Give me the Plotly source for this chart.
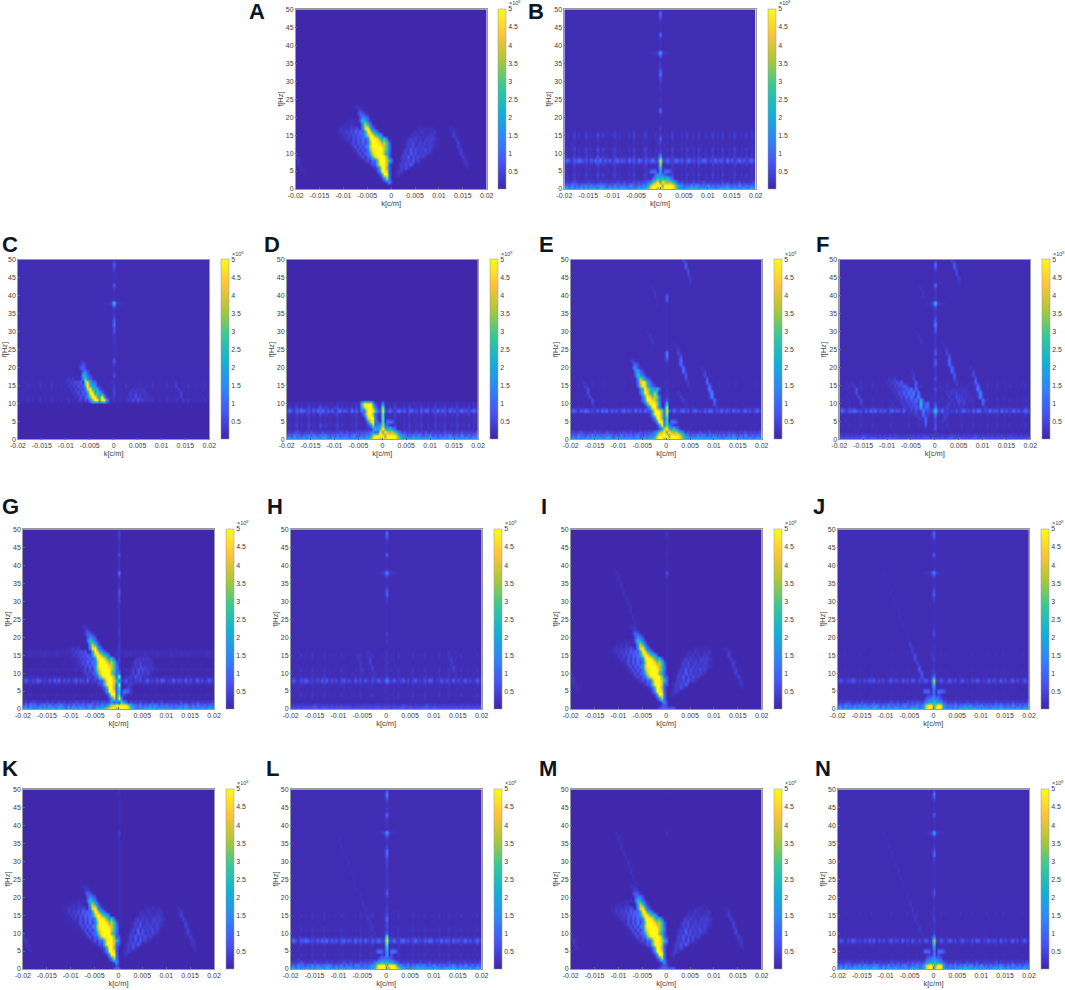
import numpy as np
import plotly.graph_objects as go

W, H = 1065, 990

# one character per cell, amplitude in units of 1e8
LEVELS = dict(zip("0123456789abcde", [0.05, 0.12, 0.2, 0.3, 0.45, 0.65, 0.9, 1.2, 1.6, 2.1, 2.7, 3.3, 3.9, 4.5, 5.0]))
K_VALUES = [-0.02 + 0.0005 * i for i in range(81)]
F_VALUES = list(range(51))
K_TICKS = [-0.02, -0.015, -0.01, -0.005, 0, 0.005, 0.01, 0.015, 0.02]
K_LABELS = ["-0.02", "-0.015", "-0.01", "-0.005", "0", "0.005", "0.01", "0.015", "0.02"]
F_TICKS = list(range(0, 55, 5))
BAR_TICKS = [0.5, 1, 1.5, 2, 2.5, 3, 3.5, 4, 4.5, 5]
BAR_LABELS = ["0.5", "1", "1.5", "2", "2.5", "3", "3.5", "4", "4.5", "5"]

# rows below are (f, first k column, codes); "." keeps what is underneath
FAN_LEFT = [(5, 34, "1356"), (6, 32, "135267"), (7, 30, "13526376"), (8, 28, "1352637487"), (9, 26, "135263748687"),
            (10, 25, "1352637486878"), (11, 24, "13526374868788"), (12, 22, "1135263748687878"),
            (13, 21, "11352637486878"), (14, 19, "113325364758687"), (15, 18, "1132435465768"),
            (16, 17, "113243536475"), (17, 17, "1132324354"), (18, 19, "112132"), (19, 22, "1212")]
FAN_RIGHT = [(4, 42, "13"), (5, 42, "1342"), (6, 43, "24353"), (7, 43, "2435363"), (8, 44, "243526342"),
             (9, 44, "24362535342"), (10, 45, "3426352434321"), (11, 45, "2436253435342"),
             (12, 46, "24352434334321"), (13, 46, "24352342434321"), (14, 47, "2424231343432"),
             (15, 48, "13231322332"), (16, 49, "1213211223"), (17, 51, "1212112")]
FAN_STREAK = [(17, 64, "12"), (16, 65, "131"), (15, 65, "141"), (14, 66, "141"), (13, 67, "141"), (12, 67, "141"),
              (11, 68, "141"), (10, 68, "141"), (9, 69, "141"), (8, 70, "131"), (7, 70, "131"), (6, 71, "12"),
              (10, 0, "2"), (9, 0, "31"), (8, 0, "131"), (7, 1, "21"), (6, 2, "21"), (5, 3, "1")]
FAN_WEAK_LEFT = [(5, 34, "1344"), (6, 32, "134245"), (7, 30, "13425364"), (8, 28, "1342536475"),
                 (9, 26, "134253647576"), (10, 25, "1342536475867"), (11, 24, "13425364758"),
                 (12, 22, "1132536475867"), (13, 21, "113253647586"), (14, 20, "11324354657"),
                 (15, 19, "1132435465"), (16, 18, "113243546"), (17, 18, "112324")]
FAN_WEAK_RIGHT = [(5, 42, "13"), (6, 43, "243"), (7, 43, "2342"), (8, 44, "24243"), (9, 44, "2425342"),
                  (10, 45, "242534242"), (11, 45, "24253534232"), (12, 46, "2425342322"), (13, 46, "242423232"),
                  (14, 47, "23232321"), (15, 48, "12121")]

RIDGE_A = [(2, 38, "483"), (3, 36, "47c7"), (4, 35, "48ee7"), (5, 34, "48eed6"), (6, 34, "5aeeb6"),
           (7, 33, "5aeeec6"), (8, 33, "6aeeeca6"), (9, 31, "6adeeeeb6"), (10, 30, "69ceeeeb96"),
           (11, 30, "7bdeeeeca7"), (12, 30, "8ceeeedca7"), (13, 30, "7beeedbca6"), (14, 30, "8deeda9a6"),
           (15, 29, "8ceeba96"), (16, 29, "9eda86"), (17, 28, "8dea74"), (18, 28, "9ca74"), (19, 27, "6a964"),
           (20, 27, "5875"), (21, 26, "4653"), (22, 26, "342"), (23, 25, "221")]
RIDGE_E = [(3, 37, "48c"), (4, 36, "48e8"), (5, 35, "48ee7"), (6, 34, "48eeb6"), (7, 33, "48eeeb6"),
           (8, 33, "59eeeb7"), (9, 32, "59eeb8"), (10, 31, "69eeec8"), (11, 30, "79eedca7"),
           (12, 30, "7aedbcb7"), (13, 29, "6aeda9c8"), (14, 29, "7aeca98a6"), (15, 28, "6beda864"),
           (16, 28, "7ced974"), (17, 28, "8ca864"), (18, 27, "6a864"), (19, 27, "7964"), (20, 26, "6853"),
           (21, 26, "464"), (22, 25, "342")]
RIDGE_C = [(11, 30, "8beeaee94"), (12, 29, "7beea9e84"), (13, 29, "8ee9a964"), (14, 28, "7cea9953"),
           (15, 28, "9ea984"), (16, 28, "cd976"), (17, 27, "8b864"), (18, 27, "9964"), (19, 27, "675"),
           (20, 26, "564"), (21, 26, "353"), (22, 26, "22")]
RIDGE_D = [(10, 31, "9eeee95"), (9, 31, "8ceeeb7"), (8, 32, "6beeeb6"), (7, 32, "7ceeb6"), (6, 33, "8dee7"),
           (5, 34, "8de7"), (4, 35, "8d6"), (3, 36, "7a8"), (2, 37, "56")]
RIDGE_F = [(19, 30, "3"), (18, 30, "141"), (17, 30, "151"), (16, 31, "161"), (15, 31, "161"), (14, 31, "272"),
           (13, 32, "272"), (12, 32, "383"), (11, 33, "494"), (10, 33, "4a4"), (9, 33, "494"), (8, 34, "383"),
           (7, 34, "272"), (6, 35, "272"), (5, 35, "272"), (4, 36, "6"), (3, 36, "2")]

STREAKS_EF = [(16, 5, "3"), (15, 5, "141"), (14, 6, "151"), (13, 6, "151"), (12, 7, "151"), (11, 8, "151"),
              (10, 8, "141"), (9, 9, "131"), (8, 10, "2"),
              (20, 55, "3"), (19, 55, "141"), (18, 55, "151"), (17, 56, "161"), (16, 56, "272"), (15, 57, "272"),
              (14, 57, "383"), (13, 58, "383"), (12, 58, "383"), (11, 59, "272"), (10, 59, "161"), (9, 60, "141"),
              (27, 43, "2"), (26, 43, "131"), (25, 44, "141"), (24, 44, "151"), (23, 45, "161"), (22, 45, "272"),
              (21, 45, "272"), (20, 46, "272"), (19, 46, "272"), (18, 47, "161"), (17, 47, "151"), (16, 48, "141"),
              (15, 48, "131"),
              (50, 47, "5"), (49, 47, "161"), (48, 47, "161"), (47, 48, "151"), (46, 48, "151"), (45, 49, "141"),
              (44, 49, "131"), (43, 50, "2"),
              (43, 33, "2"), (42, 33, "131"), (41, 34, "131"), (40, 34, "131"), (39, 35, "121"), (38, 35, "121"),
              (37, 36, "2"),
              (30, 32, "2"), (29, 32, "131"), (28, 33, "131"), (27, 33, "131"), (26, 34, "121"), (25, 34, "2"),
              (13, 45, "3"), (12, 45, "141"), (11, 46, "141"), (10, 47, "131"), (9, 47, "131")]
STREAKS_H = [(16, 32, "3"), (15, 32, "3"), (14, 33, "4"), (13, 33, "4"), (12, 34, "4"), (11, 34, "4"), (10, 35, "3"),
             (9, 35, "3"), (16, 66, "3"), (15, 66, "3"), (14, 67, "4"), (13, 67, "4"), (12, 68, "4"), (11, 68, "4"),
             (10, 69, "3"), (9, 69, "3"), (15, 28, "3"), (14, 28, "3"), (13, 29, "3"), (12, 29, "3"), (11, 30, "3"),
             (10, 30, "3")]
LONG_STREAK = [(38, 19, "2"), (37, 20, "2"), (36, 20, "2"), (35, 21, "2"), (34, 21, "2"), (33, 22, "2"),
               (32, 22, "2"), (31, 23, "2"), (30, 24, "2"), (29, 24, "2"), (28, 25, "2"), (27, 25, "2"),
               (26, 26, "2"), (25, 26, "2"), (24, 27, "2"), (23, 27, "2"), (22, 28, "2"), (21, 29, "2"),
               (20, 29, "2"), (19, 30, "2"), (18, 30, "3"), (17, 31, "3"), (16, 31, "3"), (15, 32, "3"),
               (14, 32, "3"), (13, 33, "3"), (12, 34, "3"), (11, 34, "3"), (10, 35, "3")]
LONG_STREAK_LOW = [(18, 30, "4"), (17, 31, "4"), (16, 31, "4"), (15, 32, "5"), (14, 32, "5"), (13, 33, "5"),
                   (12, 34, "5"), (11, 34, "6"), (10, 35, "6"), (9, 35, "5")]

SPK_HI = "131241312413125142213413121314121341213142131412131421314213124131412314213141312"
SPK_MID = "121131211312113121211312111213111231112131211311121312213112113121311213112121311"
SPK_LO = "111211111211112111111121111112111211111211121211111211112111112111211211111112111"
BAND_HI = "475365764536475736463574653746375364674536475367463574536476354746537463574635746"
BAND_LO = "364254653425364625352463542635264253563425364256352463425365243635426352463524635"
LOW0_HI = "8a79788a79a8a97b987a9897a887879a9887978788a78a9878999aa98a89a9887a98a989878a78a87"
LOW1_HI = "575867576858667786575857675786576866768675757867685768687576857575768657586575768"
LOW2_HI = "343454334353433534334354353435454554544454453534353433534353343433534334353434353"
LOW0_LO = "565656656676567656565766565656565656665656565676567656567656765656565656565656565"
LOW1_LO = "343434343454343434343434433343443434443434343345434343434543434343434334434343434"

NOISE_HI = [(3, 0, SPK_MID), (4, 0, SPK_HI), (5, 0, SPK_MID), (6, 0, SPK_MID), (7, 0, SPK_HI), (9, 0, SPK_HI),
            (10, 0, SPK_MID), (11, 0, SPK_HI), (12, 0, SPK_MID), (13, 0, SPK_LO), (14, 0, SPK_MID), (15, 0, SPK_HI),
            (16, 0, SPK_MID)]
NOISE_MID = [(3, 0, SPK_LO), (4, 0, SPK_MID), (5, 0, SPK_LO), (6, 0, SPK_LO), (7, 0, SPK_MID), (9, 0, SPK_MID),
             (10, 0, SPK_LO), (11, 0, SPK_MID), (12, 0, SPK_LO), (14, 0, SPK_LO), (15, 0, SPK_MID), (16, 0, SPK_LO)]
NOISE_LO = [(4, 0, SPK_LO), (7, 0, SPK_LO), (9, 0, SPK_LO), (11, 0, SPK_LO), (15, 0, SPK_LO), (16, 0, SPK_LO)]
LINE_HI = [(8, 0, BAND_HI)]
LINE_LO = [(8, 0, BAND_LO)]
LOW_HI = [(0, 0, LOW0_HI), (1, 0, LOW1_HI), (2, 0, LOW2_HI)]
LOW_LO = [(0, 0, LOW0_LO), (1, 0, LOW1_LO)]

WINGS = [(5, 35, "2676"), (5, 42, "7763"), (4, 38, "4"), (4, 42, "5"), (3, 39, "5"), (3, 41, "5")]
CROSS = [(38, 34, "112234.432211")]
HUMP_B = [(0, 32, "89aceeeaeeeeeecb98"), (1, 34, "79ceeeeaeeeeca8"), (2, 35, "78bceaecbca97"), (3, 37, "78a9a9a86"),
          (4, 38, "7887")]
HUMP_G = [(0, 33, "9bdeeeaeeeeeb9"), (1, 35, "8acdeeeeeca8"), (2, 37, "99aab97"), (3, 38, "7a98")]
HUMP_J = [(0, 34, "789deeaeed987"), (1, 35, "79ceeacee97"), (2, 36, "6899a9986"), (3, 37, "5678765")]
HUMP_L = [(0, 31, "6789adeeedaeeeda987"), (1, 33, "789ceeeaeeec987"), (2, 35, "789a9a9987"), (3, 37, "567665")]
BASE_I = [(0, 37, "6776677"), (1, 38, "454")]
BASE_K = [(0, 38, "676"), (1, 39, "5")]

# value at k = 0, one character per f from 0 to 50
COMB_B = "...da9ace95334642422247223223345764325922237222" + "3672"
COMB_C = "..........." + "3344322532" + "4622223335" + "5764325a22" + "2362223562"
COMB_D = "...eccccec8"
COMB_E = "...ebbbdeda54332" + "2222234783" + "2222222222222" + "66" + "1111111111"
COMB_F = ".." + "355458b7533353" + "3533366365" + "3333568643" + "35a3333722" + "23672"
COMB_G = "...ebabded743343" + "3332233222" + "2222445532" + "2472222522" + "22342"
COMB_H = ".." + "222223" + "8" + "4232323" + "2223242222" + "2222346642" + "2482222622" + "23672"
COMB_I = ".......5a5" + "111111111111111111111111111" + "35" + "1111" + "2" + "1111" + "23" + "1"
COMB_J = "...9778ad74323432" + "3223542222" + "2223465322" + "4822226222" + "3672"
COMB_K = ".......565" + "111111111111111111111111111" + "24" + "1111" + "1" + "1111" + "12" + "1"
COMB_L = "...c99acec645575" + "3433365333" + "3334457743" + "3592334733" + "34782"
COMB_M = ".......343" + "000000000000000000000000000" + "12" + "0000" + "0" + "0000" + "01" + "0"
COMB_N = "...8778ac74323432" + "3223552222" + "2223475322" + "4922226222" + "3672"

BACKGROUND = dict(A="0", B="1", C="1", D="1", E="1", F="1", G="0", H="1", I="0", J="1", K="0", L="1", M="0", N="1")
COMBS = dict(B=COMB_B, C=COMB_C, D=COMB_D, E=COMB_E, F=COMB_F, G=COMB_G, H=COMB_H, I=COMB_I, J=COMB_J, K=COMB_K,
             L=COMB_L, M=COMB_M, N=COMB_N)
# f rows that carry signal, the rest of the panel was filtered out
KEPT_ROWS = dict(C=(11, 50), D=(0, 10))
LAYERS = dict(
    A=[FAN_LEFT, FAN_RIGHT, FAN_STREAK, RIDGE_A],
    B=[NOISE_HI, LINE_HI, LOW_HI, WINGS, CROSS, HUMP_B],
    C=[NOISE_MID, FAN_WEAK_LEFT, FAN_WEAK_RIGHT, FAN_STREAK, CROSS, RIDGE_C],
    D=[NOISE_HI, LINE_HI, LOW_HI, WINGS, HUMP_B, RIDGE_D],
    E=[NOISE_LO, LINE_HI, LOW_HI, WINGS, STREAKS_EF, HUMP_B, RIDGE_E],
    F=[NOISE_MID, LINE_HI, LOW_LO, FAN_WEAK_LEFT, FAN_WEAK_RIGHT, STREAKS_EF, CROSS, RIDGE_F],
    G=[NOISE_LO, LINE_LO, LOW_HI, FAN_WEAK_LEFT, FAN_WEAK_RIGHT, WINGS, HUMP_G, RIDGE_A],
    H=[NOISE_MID, LINE_LO, LOW_LO, STREAKS_H, CROSS],
    I=[FAN_LEFT, FAN_RIGHT, FAN_STREAK, LONG_STREAK, BASE_I, RIDGE_A],
    J=[NOISE_LO, LINE_LO, LOW_HI, LONG_STREAK, LONG_STREAK_LOW, WINGS, CROSS, HUMP_J],
    K=[FAN_LEFT, FAN_RIGHT, FAN_STREAK, BASE_K, RIDGE_A],
    L=[NOISE_MID, LINE_HI, LOW_HI, LONG_STREAK, WINGS, CROSS, HUMP_L],
    M=[FAN_LEFT, FAN_RIGHT, FAN_STREAK, LONG_STREAK, BASE_I, RIDGE_A],
    N=[NOISE_LO, LINE_LO, LOW_HI, LONG_STREAK, WINGS, CROSS, HUMP_J],
)

# pixel boxes: plot left, plot right, top, bottom, colorbar left, letter x, letter y
BOXES = dict(
    A=(295.7, 486.7, 9.3, 189, 498.3, 257, 12),
    B=(564.3, 755.7, 9.3, 189, 767.7, 536, 12),
    C=(18, 209.3, 259.7, 439.3, 221, 10, 244),
    D=(286.7, 478, 259.7, 439.3, 490, 272, 244),
    E=(570.7, 761.7, 259.7, 439.3, 773.7, 546, 244),
    F=(839.3, 1030.3, 259.7, 439.3, 1042.3, 822, 244),
    G=(23, 214, 529.3, 709, 226.3, 10, 507),
    H=(290.7, 481.7, 529.3, 709, 493.7, 275, 507),
    I=(570.7, 761.7, 529.3, 709, 773.7, 544, 507),
    J=(837.7, 1029, 529.3, 709, 1041, 819, 507),
    K=(23, 214, 789.3, 969, 226, 10, 768),
    L=(290.7, 481.7, 789.3, 969, 493.7, 272, 768),
    M=(570.7, 761.7, 789.3, 969, 773.7, 548, 768),
    N=(838, 1029, 789.3, 969, 1041, 823, 768),
)

PARULA = [
    [0, "rgb(62,38,168)"], [1 / 7, "rgb(72,82,244)"], [2 / 7, "rgb(46,135,247)"], [3 / 7, "rgb(18,177,214)"],
    [4 / 7, "rgb(55,200,151)"], [5 / 7, "rgb(171,199,57)"], [6 / 7, "rgb(254,195,56)"], [1, "rgb(249,251,21)"],
]
TEXT = "#404040"
FONT = "Liberation Sans"


def build_z(name):
    z = np.full((len(F_VALUES), len(K_VALUES)), LEVELS[BACKGROUND[name]])
    layers = list(LAYERS[name])
    if name in COMBS:
        comb = [(f, 40, code) for f, code in enumerate(COMBS[name]) if f < len(F_VALUES)]
        layers.insert(len(layers) - 1, comb)
    for layer in layers:
        for f, start, codes in layer:
            for offset, code in enumerate(codes):
                if code != "." and start + offset < len(K_VALUES):
                    z[f, start + offset] = LEVELS[code]
    if name in KEPT_ROWS:
        low, high = KEPT_ROWS[name]
        z[:low, :] = LEVELS["0"]
        z[high + 1 :, :] = LEVELS["0"]
    return z


fig = go.Figure()
layout = dict(
    width=W,
    height=H,
    margin=dict(l=0, r=0, t=0, b=0, autoexpand=False),
    paper_bgcolor="white",
    plot_bgcolor="white",
    showlegend=False,
    font=dict(family=FONT, size=7, color=TEXT),
)
annotations = []

for n, name in enumerate(BOXES, start=1):
    left, right, top, bottom, bar_left, letter_x, letter_y = BOXES[name]
    fig.add_trace(
        go.Heatmap(
            x=K_VALUES,
            y=F_VALUES,
            z=build_z(name),
            zmin=0.01,
            zmax=5,
            zsmooth="best",
            colorscale=PARULA,
            xaxis=f"x{n}",
            yaxis=f"y{n}",
            hoverinfo="skip",
            colorbar=dict(
                x=bar_left / W,
                xanchor="left",
                y=1 - bottom / H,
                yanchor="bottom",
                len=(bottom - top) / H,
                lenmode="fraction",
                thickness=8,
                thicknessmode="pixels",
                xpad=0,
                ypad=0,
                outlinewidth=0.5,
                outlinecolor="#999999",
                ticks="",
                tickvals=BAR_TICKS,
                ticktext=BAR_LABELS,
                tickfont=dict(size=7, color=TEXT),
            ),
        )
    )
    layout[f"xaxis{n}"] = dict(
        domain=[left / W, right / W],
        anchor=f"y{n}",
        range=[-0.02, 0.02],
        tickvals=K_TICKS,
        ticktext=K_LABELS,
        ticks="inside",
        ticklen=2,
        tickwidth=0.5,
        tickcolor="#666666",
        tickangle=0,
        showgrid=False,
        zeroline=False,
        showline=True,
        mirror=True,
        linewidth=0.5,
        linecolor="#999999",
        title=dict(text="k[c/m]", standoff=1, font=dict(size=7.5, color=TEXT)),
    )
    layout[f"yaxis{n}"] = dict(
        domain=[1 - bottom / H, 1 - top / H],
        anchor=f"x{n}",
        range=[0, 50],
        tickvals=F_TICKS,
        ticks="inside",
        ticklen=2,
        tickwidth=0.5,
        tickcolor="#666666",
        showgrid=False,
        zeroline=False,
        showline=True,
        mirror=True,
        linewidth=0.5,
        linecolor="#999999",
        title=dict(text="f[Hz]", standoff=1, font=dict(size=7.5, color=TEXT)),
    )
    annotations.append(
        dict(
            text=f"<b>{name}</b>",
            x=letter_x / W,
            y=1 - letter_y / H,
            xref="paper",
            yref="paper",
            xanchor="center",
            yanchor="middle",
            showarrow=False,
            font=dict(family=FONT, size=22, color="#0b1526"),
        )
    )
    annotations.append(
        dict(
            text="×10<sup>8</sup>",
            x=(bar_left + 9) / W,
            y=1 - (top - 6) / H,
            xref="paper",
            yref="paper",
            xanchor="left",
            yanchor="middle",
            showarrow=False,
            font=dict(size=5.5, color=TEXT),
        )
    )

layout["annotations"] = annotations
fig.update_layout(**layout)
fig.write_html(
    "out.html",
    config={"displayModeBar": False},
    post_script="document.body.style.margin='0';document.body.style.overflow='hidden';",
)
